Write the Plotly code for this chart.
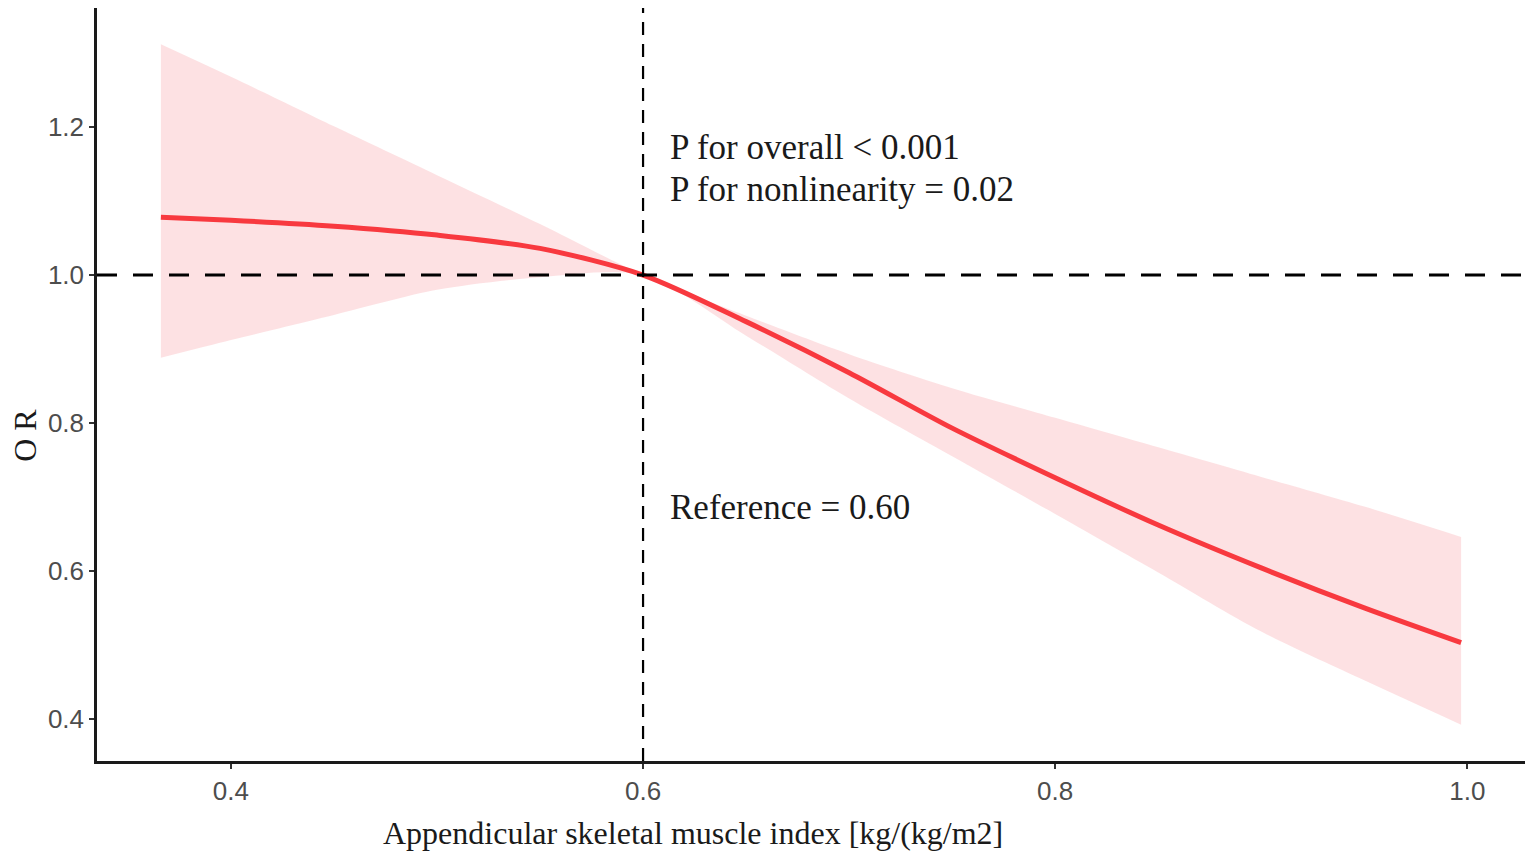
import plotly.graph_objects as go

# values
asmi = [0.366, 0.40, 0.45, 0.50, 0.55, 0.60, 0.65, 0.70, 0.75, 0.80, 0.85, 0.90, 0.95, 0.997]
or_fit = [1.078, 1.074, 1.066, 1.054, 1.036, 1.0, 0.937, 0.868, 0.793, 0.726, 0.662, 0.604, 0.550, 0.503]
or_upper = [1.312, 1.268, 1.201, 1.135, 1.069, 1.0, 0.945, 0.893, 0.847, 0.807, 0.767, 0.727, 0.687, 0.646]
or_lower = [0.888, 0.912, 0.946, 0.980, 0.997, 1.0, 0.918, 0.833, 0.755, 0.677, 0.598, 0.518, 0.452, 0.392]

ref_x = 0.60
ref_y = 1.0
x_ticks = [0.4, 0.6, 0.8, 1.0]
y_ticks = [0.4, 0.6, 0.8, 1.0, 1.2]

SERIF = "Liberation Serif, Times New Roman, serif"
SANS = "Liberation Sans, Arial, sans-serif"

fig = go.Figure()
# confidence band
fig.add_trace(go.Scatter(x=asmi, y=or_upper, mode="lines", line=dict(width=0, shape="spline", smoothing=0.8),
                         showlegend=False, hoverinfo="skip"))
fig.add_trace(go.Scatter(x=asmi, y=or_lower, mode="lines", line=dict(width=0, shape="spline", smoothing=0.8),
                         fill="tonexty", fillcolor="rgba(253,222,224,0.9)",
                         showlegend=False, hoverinfo="skip"))
# reference lines
fig.add_hline(y=ref_y, line=dict(color="black", width=3, dash="20px,16px"))
fig.add_vline(x=ref_x, line=dict(color="black", width=2.2, dash="13px,9px"))
# fitted curve
fig.add_trace(go.Scatter(x=asmi, y=or_fit, mode="lines",
                         line=dict(color="#F8393F", width=5, shape="spline", smoothing=0.8),
                         showlegend=False))

ann_font = dict(family=SERIF, size=35, color="#1a1a1a")
fig.add_annotation(x=0.612, y=1.173, xref="x", yref="y", xanchor="left", yanchor="middle",
                   text="P for overall < 0.001", showarrow=False, font=ann_font)
fig.add_annotation(x=0.612, y=1.115, xref="x", yref="y", xanchor="left", yanchor="middle",
                   text="P for nonlinearity = 0.02", showarrow=False, font=ann_font)
fig.add_annotation(x=0.612, y=0.686, xref="x", yref="y", xanchor="left", yanchor="middle",
                   text="Reference = 0.60", showarrow=False, font=ann_font)

# axis titles (placed off-centre as in the source figure)
fig.add_annotation(x=0.624, y=-0.0956, xref="x", yref="paper", xanchor="center", yanchor="middle",
                   text="Appendicular skeletal muscle index [kg/(kg/m2]", showarrow=False,
                   font=dict(family=SERIF, size=32, color="#1a1a1a"))
fig.add_annotation(x=-0.0505, y=0.433, xref="paper", yref="paper", xanchor="center", yanchor="middle",
                   text="O R", textangle=-90, showarrow=False, borderpad=0,
                   font=dict(family=SERIF, size=32, color="#1a1a1a"))

axis_common = dict(showline=True, linecolor="#1a1a1a", linewidth=2.5, showgrid=False,
                   zeroline=False, ticks="outside", ticklen=5, tickwidth=2, tickcolor="#333",
                   automargin=False, tickfont=dict(family=SANS, size=26, color="#4d4d4d"))
fig.update_xaxes(range=[0.335, 1.028], tickvals=x_ticks, ticktext=["0.4", "0.6", "0.8", "1.0"],
                 **axis_common)
fig.update_yaxes(range=[0.343, 1.361], tickvals=y_ticks, ticktext=["0.4", "0.6", "0.8", "1.0", "1.2"],
                 **axis_common)
fig.update_layout(width=1527, height=855, margin=dict(l=89, r=10, t=0, b=102),
                  plot_bgcolor="white", paper_bgcolor="white", showlegend=False)
fig.write_html("out.html")
